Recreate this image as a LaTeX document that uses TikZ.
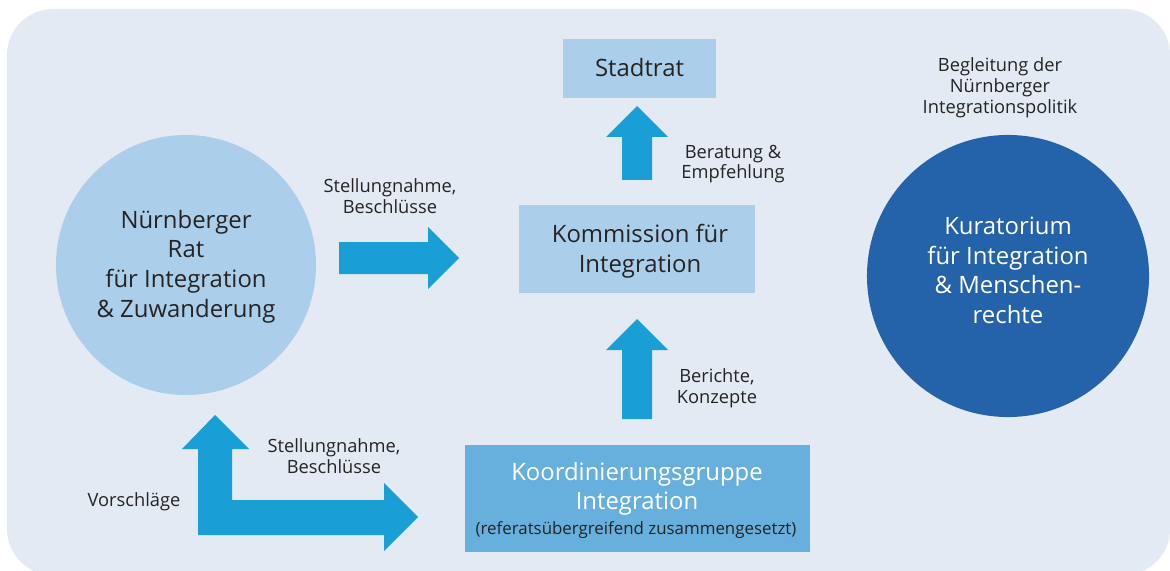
\documentclass[tikz,border=0pt]{standalone}
\usepackage{fontspec}
\setmainfont{Open Sans}
\definecolor{bgblue}{HTML}{E3EAF4}
\definecolor{lightblue}{HTML}{ABCFEA}
\definecolor{midblue}{HTML}{67AFDC}
\definecolor{darkblue}{HTML}{2463A9}
\definecolor{arrowblue}{HTML}{199FD6}
\definecolor{textdark}{HTML}{262324}
\tikzset{
	big/.style={font=\fontsize{17}{21}\selectfont, align=center, text=textdark, inner sep=0pt},
	small/.style={font=\fontsize{13}{14.8}\selectfont, align=center, text=textdark},
	lightbox/.style={fill=lightblue, inner sep=0pt},
	blockarrow/.style={fill=arrowblue},
}
\begin{document}
\begin{tikzpicture}[x=0.025cm, y=-0.025cm, line join=round]
	\useasboundingbox (0,0) rectangle (1170,571);
	\fill[bgblue, rounded corners=1.15cm] (7,9) rectangle (1170,575);
	% die beiden Kreise
	\node[circle, fill=lightblue, minimum size=6.5cm] (rat) at (186,265) {};
	\node[big] (rat-text) at (186,266.5) {N\"urnberger\\Rat\\f\"ur Integration\\\& Zuwanderung};
	\node[circle, fill=darkblue, minimum size=7.05cm] (kuratorium) at (1008,276) {};
	\node[big, text=white] (kuratorium-text) at (1008,270.5) {Kuratorium\\f\"ur Integration\\\& Menschen-\\rechte};
	\node[small] (begleitung) at (1000,88) {Begleitung der\\N\"urnberger\\Integrationspolitik};
	% Kaesten
	\node[lightbox, minimum width=3.825cm, minimum height=1.475cm] (stadtrat) at (639.5,68.5) {};
	\node[big] (stadtrat-text) at (639.5,68) {Stadtrat};
	\node[lightbox, minimum width=5.9cm, minimum height=2.2cm] (kommission) at (637,249) {};
	\node[big] (kommission-text) at (640,251) {Kommission f\"ur\\Integration};
	\node[lightbox, fill=midblue, minimum width=8.625cm, minimum height=2.675cm] (koordinierung) at (637.5,498.5) {};
	\node[big, text=white] (koordinierung-text) at (637,489) {Koordinierungsgruppe\\Integration};
	\node[small, font=\fontsize{12}{14}\selectfont] (referate) at (636,530) {(referats\"ubergreifend zusammengesetzt)};
	% Pfeile nach oben
	\foreach \b/\t in {180/106,419/319}{
		\fill[blockarrow] (622,\b)--(622,\t+31)--(606,\t+31)--(637,\t)--(668,\t+31)--(652,\t+31)--(652,\b)--cycle;
	}
	% Pfeil nach rechts
	\fill[blockarrow] (339,242)--(428,242)--(428,227)--(459,258)--(428,289)--(428,274)--(339,274)--cycle;
	% Winkelpfeil unten links
	\fill[blockarrow] (198,535)--(198,449)--(182,449)--(215,415)--(249,449)--(232,449)--(232,500)
		--(384,500)--(384,483)--(418,517)--(384,551)--(384,535)--cycle;
	% Beschriftungen
	\node[small] (beratung) at (733,164) {Beratung \&\\Empfehlung};
	\node[small] (stellung1) at (390,196) {Stellungnahme,\\Beschl\"usse};
	\node[small] (berichte) at (717,388) {Berichte,\\Konzepte};
	\node[small] (stellung2) at (334,456) {Stellungnahme,\\Beschl\"usse};
	\node[small] (vorschlaege) at (134,502) {Vorschl\"age};
\end{tikzpicture}
\end{document}
